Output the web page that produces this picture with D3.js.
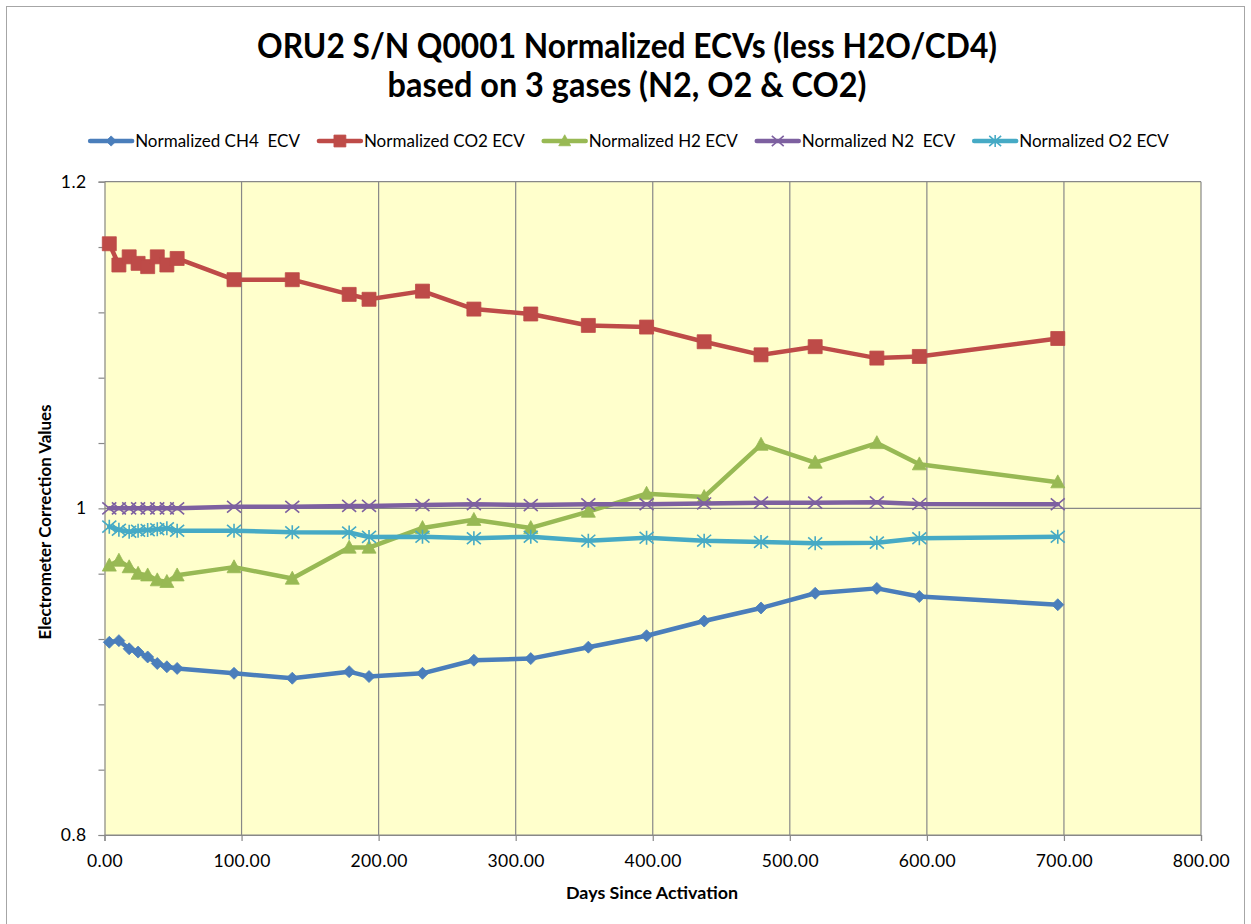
<!DOCTYPE html>
<html>
<head>
<meta charset="utf-8">
<script src="https://cdn.jsdelivr.net/npm/d3@7"></script>
<style>
    body { margin: 0; background: #fff; }
    svg text { font-family: Lato, "Open Sans", "DejaVu Sans", sans-serif; fill: #000; }
</style>
</head>
<body>
<div id="chartCont"></div>
<script>
// ---- data ----
var days = [3.5, 10.5, 18, 24.5, 31.5, 38.5, 45.5, 53, 94.5, 137, 178.5, 193, 232, 269.5, 311, 353, 395.5, 437.5, 479, 518.5, 563.5, 594.5, 695.5];

var ch4 = [0.918, 0.919, 0.914, 0.912, 0.909, 0.905, 0.903, 0.902, 0.899, 0.896, 0.900, 0.897, 0.899, 0.907, 0.908, 0.915, 0.922, 0.931, 0.939, 0.948, 0.951, 0.946, 0.941];
var co2 = [1.162, 1.149, 1.154, 1.150, 1.148, 1.154, 1.149, 1.153, 1.140, 1.140, 1.131, 1.128, 1.133, 1.122, 1.119, 1.112, 1.111, 1.102, 1.094, 1.099, 1.092, 1.093, 1.104];
var h2  = [0.965, 0.968, 0.964, 0.960, 0.959, 0.956, 0.955, 0.959, 0.964, 0.957, 0.976, 0.976, 0.988, 0.993, 0.988, 0.998, 1.009, 1.007, 1.039, 1.028, 1.040, 1.027, 1.016];
var n2  = [1.000, 1.000, 1.000, 1.000, 1.000, 1.000, 1.000, 1.000, 1.001, 1.001, 1.0015, 1.0015, 1.002, 1.0025, 1.002, 1.0025, 1.0025, 1.003, 1.0035, 1.0035, 1.0037, 1.0027, 1.0025];
var o2  = [0.9888, 0.9869, 0.9857, 0.9863, 0.9867, 0.9872, 0.9878, 0.9863, 0.9863, 0.9853, 0.9852, 0.9825, 0.9826, 0.9817, 0.9826, 0.9802, 0.982, 0.9802, 0.9794, 0.9786, 0.979, 0.9817, 0.9826];

var seriesNames = ['Normalized CH4  ECV', 'Normalized CO2 ECV', 'Normalized H2 ECV', 'Normalized N2  ECV', 'Normalized O2 ECV'];
var seriesValues = [ch4, co2, h2, n2, o2];
var seriesMarkers = ['diamond', 'square', 'triangle', 'x', 'star'];
var lc_color = ['#4a7ebb', '#be4b48', '#98b954', '#7d60a0', '#46aac5'];

var xTicks = [0, 100, 200, 300, 400, 500, 600, 700, 800];
var yMinorTicks = [0.8, 0.84, 0.88, 0.92, 0.96, 1.0, 1.04, 1.08, 1.12, 1.16, 1.2];
var yMajorTicks = [0.8, 1.0, 1.2];
var yTickLabels = ['0.8', '1', '1.2'];

var titleLines = ['ORU2 S/N Q0001 Normalized ECVs (less H2O/CD4)', 'based on 3 gases (N2, O2 & CO2)'];
var xTitle = 'Days Since Activation';
var yTitle = 'Electrometer Correction Values';

// ---- sizes ----
var sizes = {
    width: 1251, height: 924,
    plot: { left: 104.5, top: 181.7, right: 1201, bottom: 835 }
};

var svg = d3.select('#chartCont').append('svg')
    .attr('width', sizes.width)
    .attr('height', sizes.height);

// chart area border
svg.append('rect')
    .attr('x', 6.5).attr('y', 6.5)
    .attr('width', 1238).attr('height', 930)
    .attr('fill', '#fff')
    .attr('stroke', '#a6a6a6');

var x = d3.scaleLinear().domain([0, 800]).range([sizes.plot.left, sizes.plot.right]);
var y = d3.scaleLinear().domain([0.8, 1.2]).range([sizes.plot.bottom, sizes.plot.top]);

// plot background
svg.append('rect')
    .attr('x', x(0)).attr('y', y(1.2))
    .attr('width', x(800) - x(0)).attr('height', y(0.8) - y(1.2))
    .attr('fill', '#ffffcc');

// gridlines
var grid = svg.append('g').attr('stroke', '#888').attr('stroke-width', 1.2);
grid.selectAll('.vg').data(xTicks.slice(1)).enter().append('line')
    .attr('x1', d => x(d)).attr('x2', d => x(d))
    .attr('y1', y(1.2)).attr('y2', y(0.8));
grid.selectAll('.hg').data(yMajorTicks).enter().append('line')
    .attr('x1', x(0)).attr('x2', x(800))
    .attr('y1', d => y(d)).attr('y2', d => y(d));

// axes
var xAxis = svg.append('g')
    .attr('transform', 'translate(0,' + y(0.8) + ')')
    .call(d3.axisBottom(x).tickValues(xTicks).tickFormat(d3.format('.2f')).tickSize(6).tickPadding(14));
var yAxis = svg.append('g')
    .attr('transform', 'translate(' + x(0) + ',0)')
    .call(d3.axisLeft(y).tickValues(yMinorTicks).tickSize(6).tickPadding(12)
        .tickFormat(function (d) {
            var i = yMajorTicks.findIndex(m => Math.abs(m - d) < 1e-9);
            return i < 0 ? '' : yTickLabels[i];
        }));
[xAxis, yAxis].forEach(function (a) {
    a.selectAll('.domain').attr('stroke', '#888').attr('stroke-width', 1.2);
    a.selectAll('.tick line').attr('stroke', '#888').attr('stroke-width', 1.2);
    a.selectAll('.tick text').attr('font-size', 17.5).attr('font-family', 'Lato, sans-serif').style('letter-spacing', '0.4px');
});

// marker shapes (Excel style)
function markerPath(type, s) {
    var h = s / 2, p = d3.path();
    if (type === 'diamond') {
        p.moveTo(0, -h); p.lineTo(h, 0); p.lineTo(0, h); p.lineTo(-h, 0); p.closePath();
    } else if (type === 'square') {
        p.rect(-h, -h, s, s);
    } else if (type === 'triangle') {
        p.moveTo(0, -h * 1.05); p.lineTo(h, h * 0.8); p.lineTo(-h, h * 0.8); p.closePath();
    } else if (type === 'x') {
        p.moveTo(-h, -h * 0.85); p.lineTo(h, h * 0.85);
        p.moveTo(-h, h * 0.85); p.lineTo(h, -h * 0.85);
    } else {
        p.moveTo(-h, -h * 0.85); p.lineTo(h, h * 0.85);
        p.moveTo(-h, h * 0.85); p.lineTo(h, -h * 0.85);
        p.moveTo(0, -h); p.lineTo(0, h);
    }
    return p.toString();
}
var markerSize = { diamond: 12, square: 14, triangle: 14, x: 14, star: 14 };
var filled = { diamond: true, square: true, triangle: true, x: false, star: false };

function drawMarker(g, type, color, cx, cy, scale) {
    var s = markerSize[type] * (scale || 1);
    g.append('path')
        .attr('d', markerPath(type, s))
        .attr('transform', 'translate(' + cx + ',' + cy + ')')
        .attr('fill', filled[type] ? color : 'none')
        .attr('stroke', color)
        .attr('stroke-width', filled[type] ? 0.8 : 1.6);
}

// series
var lc_line = d3.line()
    .x(d => x(d.day))
    .y(d => y(d.value));

var lines = svg.append('g').attr('id', 'lines');
seriesValues.forEach(function (vals, k) {
    var data = days.map((d, i) => ({ day: d, value: vals[i] }));
    var g = lines.append('g');
    g.append('path')
        .datum(data)
        .attr('fill', 'none')
        .attr('stroke', lc_color[k])
        .attr('stroke-width', 4.5)
        .attr('stroke-linejoin', 'round')
        .attr('stroke-linecap', 'round')
        .attr('d', lc_line);
    data.forEach(function (d) {
        drawMarker(g, seriesMarkers[k], lc_color[k], x(d.day), y(d.value));
    });
});

// titles
var title = svg.append('g').attr('font-weight', 700).attr('text-anchor', 'middle');
title.append('text').attr('x', 627).attr('y', 58).attr('font-size', 34)
    .attr('textLength', 740).attr('lengthAdjust', 'spacingAndGlyphs').text(titleLines[0]);
title.append('text').attr('x', 627).attr('y', 97).attr('font-size', 34)
    .attr('textLength', 479).attr('lengthAdjust', 'spacingAndGlyphs').text(titleLines[1]);

svg.append('text').attr('x', 652).attr('y', 899).attr('text-anchor', 'middle')
    .attr('font-weight', 700).attr('font-size', 17)
    .attr('textLength', 172).attr('lengthAdjust', 'spacingAndGlyphs').text(xTitle);
svg.append('text').attr('transform', 'translate(51,522) rotate(-90)').attr('text-anchor', 'middle')
    .attr('font-weight', 700).attr('font-size', 17)
    .attr('textLength', 235).attr('lengthAdjust', 'spacingAndGlyphs').text(yTitle);

// legend
var legend = svg.append('g').attr('id', 'legend');
var lx = 0;
seriesNames.forEach(function (name, k) {
    var g = legend.append('g').attr('transform', 'translate(' + lx + ',0)');
    g.append('line').attr('x1', 0).attr('x2', 42).attr('y1', 0).attr('y2', 0)
        .attr('stroke', lc_color[k]).attr('stroke-width', 4.5).attr('stroke-linecap', 'round');
    drawMarker(g, seriesMarkers[k], lc_color[k], 21, 0, 0.85);
    var t = g.append('text').attr('x', 45).attr('y', 6).attr('font-size', 17)
        .style('white-space', 'pre').text(name);
    lx += 45 + t.node().getComputedTextLength() + 19;
});
var legW = lx - 19;
legend.attr('transform', 'translate(' + (629.5 - legW / 2) + ',141)');
</script>
</body>
</html>
